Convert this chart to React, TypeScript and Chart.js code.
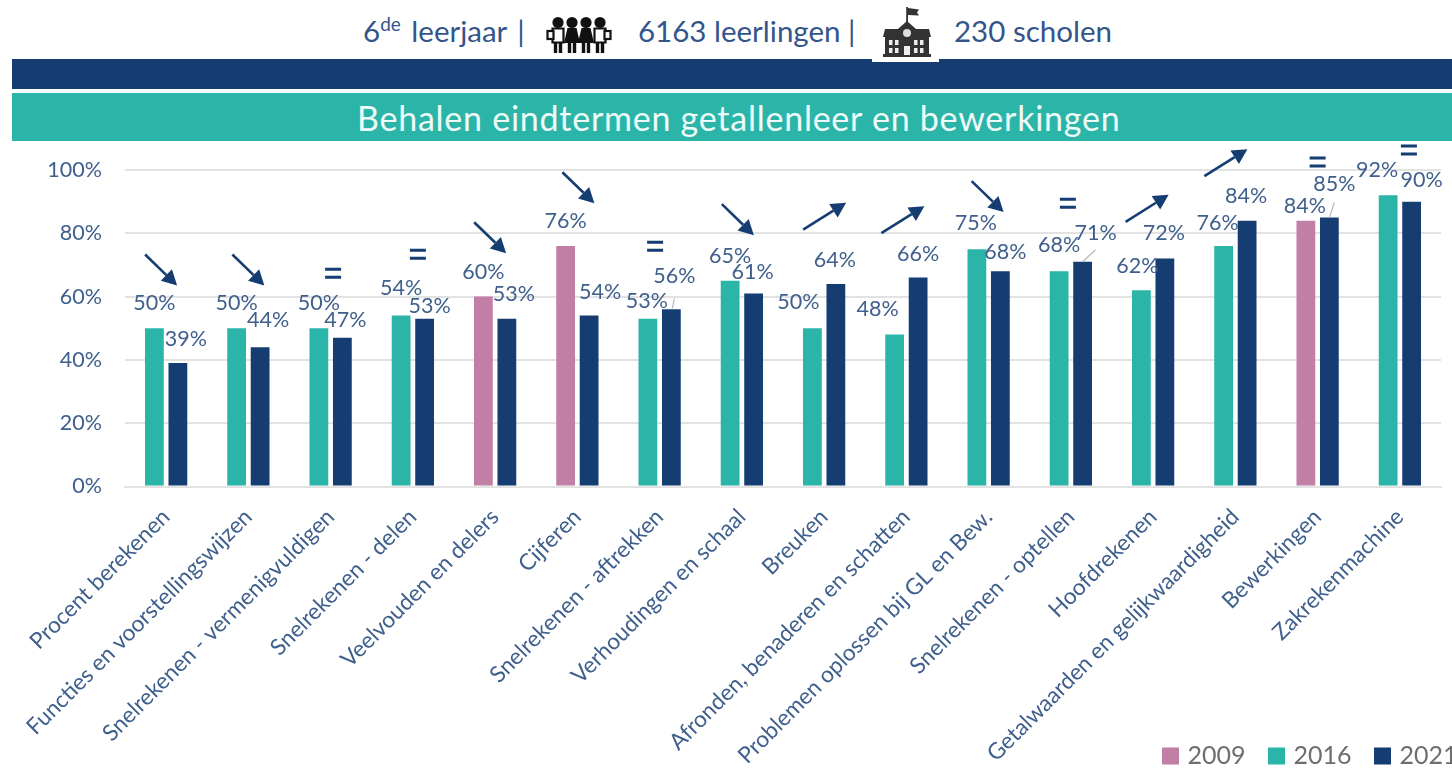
import React, { useEffect, useRef } from "react";
import { Chart, registerables } from "chart.js";

Chart.register(...registerables);

const categories = [
  "Procent berekenen",
  "Functies en voorstellingswijzen",
  "Snelrekenen - vermenigvuldigen",
  "Snelrekenen - delen",
  "Veelvouden en delers",
  "Cijferen",
  "Snelrekenen - aftrekken",
  "Verhoudingen en schaal",
  "Breuken",
  "Afronden, benaderen en schatten",
  "Problemen oplossen bij GL en Bew.",
  "Snelrekenen - optellen",
  "Hoofdrekenen",
  "Getalwaarden en gelijkwaardigheid",
  "Bewerkingen",
  "Zakrekenmachine",
];
const values2009 = [null, null, null, null, 60, 76, null, null, null, null, null, null, null, null, 84, null];
const values2016 = [50, 50, 50, 54, null, null, 53, 65, 50, 48, 75, 68, 62, 76, null, 92];
const values2021 = [39, 44, 47, 53, 53, 54, 56, 61, 64, 66, 68, 71, 72, 84, 85, 90];
const yTicks = [0, 20, 40, 60, 80, 100];

const trendKinds = ["down", "down", "equal", "equal", "down", "down", "equal", "down", "up", "up", "down", "equal", "up", "up", "equal", "equal"];
const trendLevels = [68.4, 68.4, 67.4, 73.4, 78.6, 94.4, 75.9, 84.3, 85.4, 84.3, 91.6, 89.5, 87.9, 102.3, 102.5, 106.3];
const trendShifts = [-5, 0, 2.5, 5, -5, 1, -4.5, -4, 0.5, -3.5, -1, -3, -6, -9.5, 0, 9];

// label displacement from the bar tip: [dx, dy] for the first bar, then the 2021 bar
const firstLabelShift = [[0, -25], [0, -25], [0, -25], [0, -28], [0, -25], [0, -25], [-1, -18], [0, -25], [-14, -26], [-17, -26], [-1, -26], [0, -26], [-4, -24], [-6, -23], [-1, -15], [-11, -25]];
const lastLabelShift = [[8, -24], [8, -27], [3, -18], [5, -13], [7, -25], [11, -24], [3, -33], [-1, -21], [-1, -24], [0, -24], [5, -19], [13, -29], [-1, -26], [-1, -25], [5, -33], [10, -22]];
// leader lines from 2021 bar tip: category, dx, dy
const leaders = [[6, 1, -1, 3, -11], [11, 0, 0, 13, -12], [14, 0, 0, 5, -15]];

const PINK = "#c27fa6";
const TEAL = "#2bb5a9";
const NAVY = "#163d72";
const TEXT = "#3f5f8c";
const FONT = "Lato";

const overlayPlugin = {
  id: "overlay",
  afterLayout(chart: any) {
    const l = chart.legend;
    if (l) {
      const w = l.right - l.left;
      l.left = 1139.5;
      l.right = 1139.5 + w;
      l.top = 717;
      l.bottom = 772;
    }
    chart.scales.x.bottom = 768;
  },
  afterDatasetsDraw(chart: any) {
    const { ctx, scales } = chart;
    const x = scales.x;
    const y = scales.y;
    ctx.save();
    // leader lines
    ctx.strokeStyle = "#b9b9b9";
    ctx.lineWidth = 1.2;
    const navyBars = chart.getDatasetMeta(2).data;
    leaders.forEach(([c, x0, y0, x1, y1]) => {
      const b = navyBars[c];
      ctx.beginPath();
      ctx.moveTo(b.x + x0, b.y + y0);
      ctx.lineTo(b.x + x1, b.y + y1);
      ctx.stroke();
    });
    // data labels
    ctx.font = `21.5px ${FONT}`;
    ctx.fillStyle = TEXT;
    ctx.textAlign = "center";
    ctx.textBaseline = "middle";
    categories.forEach((_, i) => {
      const firstIdx = values2009[i] != null ? 0 : 1;
      const first = chart.getDatasetMeta(firstIdx).data[i];
      const firstVal = firstIdx === 0 ? values2009[i] : values2016[i];
      ctx.fillText(`${firstVal}%`, first.x + firstLabelShift[i][0], first.y + firstLabelShift[i][1]);
      const last = navyBars[i];
      ctx.fillText(`${values2021[i]}%`, last.x + lastLabelShift[i][0], last.y + lastLabelShift[i][1]);
    });
    // trend markers
    ctx.strokeStyle = NAVY;
    ctx.fillStyle = NAVY;
    categories.forEach((_, i) => {
      const cx = x.getPixelForValue(i) + trendShifts[i];
      const cy = y.getPixelForValue(trendLevels[i]);
      const kind = trendKinds[i];
      if (kind === "equal") {
        ctx.lineWidth = 3;
        ctx.beginPath();
        ctx.moveTo(cx - 8, cy - 4);
        ctx.lineTo(cx + 8, cy - 4);
        ctx.moveTo(cx - 8, cy + 4);
        ctx.lineTo(cx + 8, cy + 4);
        ctx.stroke();
        return;
      }
      const hx = kind === "down" ? 16 : 21.5;
      const hy = kind === "down" ? 15.5 : -13.5;
      const ang = Math.atan2(hy, hx);
      const tipX = cx + hx;
      const tipY = cy + hy;
      const len = 15;
      const hw = 8;
      const bx = tipX - Math.cos(ang) * len;
      const by = tipY - Math.sin(ang) * len;
      ctx.lineWidth = 2.6;
      ctx.beginPath();
      ctx.moveTo(cx - hx, cy - hy);
      ctx.lineTo(bx, by);
      ctx.stroke();
      ctx.beginPath();
      ctx.moveTo(tipX, tipY);
      ctx.lineTo(bx - Math.sin(ang) * hw, by + Math.cos(ang) * hw);
      ctx.lineTo(bx + Math.sin(ang) * hw, by - Math.cos(ang) * hw);
      ctx.closePath();
      ctx.fill();
    });
    ctx.restore();
  },
};

function PeopleIcon() {
  const person = (x: number, dress: boolean, bag: number) => (
    <g key={x} transform={`translate(${x} 0)`}>
      <circle cx="7" cy="6.5" r="5.6" fill="#111" />
      {dress ? (
        <path d="M2.5 12h9l3.5 15H-1z" fill="#111" />
      ) : (
        <path d="M1.5 12.5h11v14h-11z" fill={bag ? "#fff" : "#111"} stroke="#111" strokeWidth="2.2" />
      )}
      <rect x="2.8" y="26" width="3.4" height="11" fill="#111" />
      <rect x="7.8" y="26" width="3.4" height="11" fill="#111" />
      {bag !== 0 && <rect x={bag < 0 ? -3.5 : 11.5} y="15" width="6" height="8" fill="#fff" stroke="#111" strokeWidth="2.2" />}
    </g>
  );
  return (
    <svg width="66" height="38" viewBox="0 0 66 38" style={{ position: "absolute", left: 546, top: 16 }}>
      {person(5, false, -1)}
      {person(19, true, 0)}
      {person(33, true, 0)}
      {person(47, false, 1)}
    </svg>
  );
}

function SchoolIcon() {
  return (
    <svg width="50" height="52" viewBox="0 0 50 52" style={{ position: "absolute", left: 882, top: 6 }}>
      <rect x="24.2" y="1" width="1.8" height="17" fill="#333" />
      <path d="M26 2l11 1.5-2 3 2 3L26 9z" fill="#333" />
      <path d="M25 15L34 23H47L49 31H1L3 23H16Z" fill="#333" />
      <rect x="3" y="31" width="44" height="19" fill="#333" />
      <rect x="1" y="48" width="48" height="3" fill="#333" />
      <circle cx="25" cy="27" r="4" fill="#ddd" />
      {[7, 13, 32, 38].map((x) => (
        <g key={x}>
          <rect x={x} y="34" width="3.5" height="5" fill="#eee" />
          <rect x={x} y="42" width="3.5" height="5" fill="#eee" />
        </g>
      ))}
      <rect x="22" y="40" width="6" height="9" fill="#eee" />
    </svg>
  );
}

export default function App() {
  const ref = useRef<HTMLCanvasElement>(null);
  useEffect(() => {
    document.body.style.margin = "0";
    const chart = new Chart(ref.current as HTMLCanvasElement, {
      type: "bar",
      data: {
        labels: categories,
        datasets: [
          { label: "2009", data: values2009, backgroundColor: PINK },
          { label: "2016", data: values2016, backgroundColor: TEAL },
          { label: "2021", data: values2021, backgroundColor: NAVY },
        ] as any,
      },
      plugins: [overlayPlugin],
      options: {
        animation: false,
        responsive: false,
        layout: { padding: { top: 170, right: 11, left: 0, bottom: 0 } },
        datasets: { bar: { skipNull: true, categoryPercentage: 0.571, barPercentage: 0.8, borderWidth: 0 } },
        plugins: {
          title: { display: false },
          tooltip: { enabled: false },
          legend: {
            position: "bottom",
            align: "start",
            labels: {
              boxWidth: 9,
              boxHeight: 9,
              padding: 26.5,
              color: "#6e6e6e",
              font: { family: FONT, size: 25 },
              generateLabels: (c: any) =>
                Chart.defaults.plugins.legend.labels.generateLabels(c).map((item: any) => ({
                  ...item,
                  strokeStyle: item.fillStyle,
                  lineWidth: 8,
                })),
            },
          },
        },
        scales: {
          x: {
            afterFit: (s: any) => {
              s.height = 768 - 486.5 - (s.chart.legend ? s.chart.legend.height : 0);
            },
            grid: { display: false },
            border: { display: true, color: "#e2e2e2", width: 2 },
            ticks: {
              autoSkip: false,
              minRotation: 45,
              maxRotation: 45,
              padding: 9,
              color: TEXT,
              font: { family: FONT, size: 22.6 },
            },
          },
          y: {
            min: 0,
            max: 100,
            afterFit: (s: any) => { s.width = 125; },
            afterBuildTicks: (s: any) => { s.ticks = yTicks.map((value) => ({ value })); },
            grid: { color: "#e2e2e2", lineWidth: 2, drawTicks: false },
            border: { display: false },
            ticks: {
              padding: 23,
              color: TEXT,
              font: { family: FONT, size: 21.5 },
              callback: (v: any) => `${v}%`,
            },
          },
        },
      } as any,
    });
    return () => chart.destroy();
  }, []);

  const head: React.CSSProperties = {
    position: "absolute",
    top: 12,
    fontFamily: FONT,
    fontSize: 29.5,
    lineHeight: "38px",
    color: "#34558a",
    whiteSpace: "nowrap",
  };
  return (
    <div style={{ position: "absolute", left: 0, top: 0, width: 1452, height: 768, overflow: "hidden", background: "#fff", filter: "blur(0.5px)" }}>
      <div style={{ ...head, left: 363, wordSpacing: 3 }}>
        6<sup style={{ fontSize: 19, lineHeight: 0 }}>de</sup> leerjaar |
      </div>
      <PeopleIcon />
      <div style={{ ...head, left: 638 }}>6163 leerlingen |</div>
      <SchoolIcon />
      <div style={{ ...head, left: 954 }}>230 scholen</div>
      <div style={{ position: "absolute", left: 12, top: 59, width: 1440, height: 30, background: NAVY }} />
      <div style={{ position: "absolute", left: 872, top: 59, width: 67, height: 3, background: "#fff" }} />
      <div
        style={{
          position: "absolute",
          left: 12,
          top: 93,
          width: 1440,
          height: 48,
          background: TEAL,
          color: "#eefbf8",
          fontFamily: FONT,
          fontSize: 34,
          letterSpacing: 0.75,
          lineHeight: "50px",
          whiteSpace: "nowrap",
        }}
      >
        <span style={{ position: "absolute", left: 345 }}>Behalen eindtermen getallenleer en bewerkingen</span>
      </div>
      <canvas ref={ref} width={1452} height={768} style={{ position: "absolute", left: 0, top: 0 }} />
    </div>
  );
}
